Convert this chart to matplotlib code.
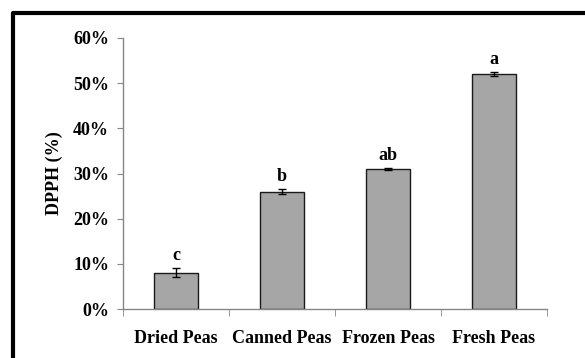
import matplotlib.pyplot as plt
from matplotlib.lines import Line2D
from matplotlib.ticker import PercentFormatter

categories = ['Dried Peas', 'Canned Peas', 'Frozen Peas', 'Fresh Peas']
dpph = [8.0, 26.0, 31.0, 52.0]
dpph_err = [1.0, 0.5, 0.15, 0.5]
letters = ['c', 'b', 'ab', 'a']

plt.rcParams['font.family'] = 'Liberation Serif'
plt.rcParams['font.weight'] = 'bold'

fig = plt.figure(figsize=(5.85, 3.58), dpi=100)
ax = fig.add_axes([123 / 585, 1 - 309 / 358, 424 / 585, 271 / 358])

x = range(len(categories))
ax.bar(x, dpph, width=0.41, color='#a6a6a6', edgecolor='#1a1a1a', linewidth=1.0,
       yerr=dpph_err, error_kw=dict(ecolor='black', elinewidth=1.0, capsize=3, capthick=1.0),
       zorder=2)

for i, (v, e, lab) in enumerate(zip(dpph, dpph_err, letters)):
    ax.annotate(lab, (i, v + e), xytext=(0, 3), textcoords='offset points',
                ha='center', va='bottom', fontsize=13, fontweight='bold')

ax.set_xlim(-0.5, len(categories) - 0.5)
ax.set_ylim(0, 60)
ax.set_yticks(range(0, 61, 10))
ax.yaxis.set_major_formatter(PercentFormatter(decimals=0))
ax.set_xticks(x)
ax.set_xticklabels(categories)
ax.set_xticks([i - 0.5 for i in range(len(categories) + 1)], minor=True)

for s in ['top', 'right']:
    ax.spines[s].set_visible(False)
for s in ['left', 'bottom']:
    ax.spines[s].set_color('#868686')
    ax.spines[s].set_linewidth(1.0)

ax.tick_params(axis='y', colors='#868686', labelcolor='black', length=4, pad=6, labelsize=13)
ax.tick_params(axis='x', which='major', length=0, pad=15, labelsize=13)
ax.tick_params(axis='x', which='minor', colors='#868686', length=5, direction='out')
for t in ax.get_xticklabels() + ax.get_yticklabels():
    t.set_fontweight('bold')

ax.set_ylabel('DPPH (%)', fontsize=13, fontweight='bold', labelpad=7)

# outer frame (only top and left edges visible in the crop)
fig.add_artist(Line2D([13 / 585, 13 / 585, 1], [0, 1 - 13 / 358, 1 - 13 / 358],
                      transform=fig.transFigure, color='black', linewidth=3))

fig.savefig('out.png', dpi=100)
